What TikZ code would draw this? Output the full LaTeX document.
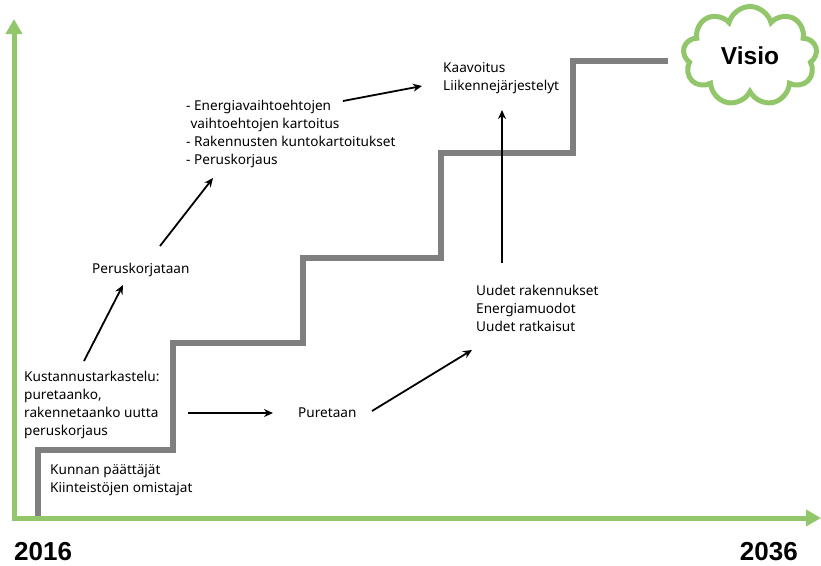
\documentclass[tikz,border=0pt]{standalone}
\usepackage{fontspec}
\setmainfont{Noto Sans}
\newfontfamily\yearfont{Liberation Sans}
\usetikzlibrary{arrows.meta,shapes.symbols}
\definecolor{axisgreen}{RGB}{146,198,106}
\definecolor{stairgray}{RGB}{127,127,127}
\tikzstyle{label} = [inner sep=0pt, anchor=west, align=left, font=\fontsize{13.6}{18}\selectfont]
\tikzstyle{year} = [inner sep=0pt, font=\yearfont\bfseries\fontsize{26}{26}\selectfont]
\tikzstyle{axis} = [axisgreen, line width=5pt, -{Triangle[width=16pt,length=15pt]}]
\tikzstyle{stairs} = [stairgray, line width=6.5pt, line join=miter]
\tikzstyle{arrow} = [line width=1.8pt, -{Stealth[length=9pt,width=8pt]}]

\begin{document}
\begin{tikzpicture}[x=1pt, y=-1pt]
    \useasboundingbox (0,0) rectangle (821,565);

    % staircase
    \draw [stairs] (38,518) -- (38,450) -- (173,450) -- (173,343) -- (303,343) -- (303,258)
        -- (441,258) -- (441,153) -- (573,153) -- (573,61) -- (668,61);

    % axes
    \draw [axis] (14,520) -- (14,19);
    \draw [axis] (12,518) -- (821,518);
    \node (start) [year, anchor=base west] at (14,560) {2016};
    \node (end) [year, anchor=base east] at (798,560) {2036};

    % vision
    \node (visio) [cloud, cloud puffs=9, aspect=1.5, draw=axisgreen, line width=5pt, fill=white,
        minimum width=134pt, minimum height=99pt, inner sep=0pt,
        font=\yearfont\bfseries\fontsize{24.5}{24.5}\selectfont] at (750,56) {Visio};

    % texts
    \node (kunnan) [label] at (50,480) {Kunnan päättäjät\\Kiinteistöjen omistajat};
    \node (kust) [label] at (24,405) {Kustannustarkastelu:\\puretaanko,\\rakennetaanko uutta\\peruskorjaus};
    \node (puretaan) [label] at (298,413) {Puretaan};
    \node (uudet) [label] at (476,308) {Uudet rakennukset\\Energiamuodot\\Uudet ratkaisut};
    \node (kaav) [label] at (443,78) {Kaavoitus\\Liikennejärjestelyt};
    \node (perus) [label] at (92,270) {Peruskorjataan};
    \node (kartoitus) [label] at (186,134) {- Energiavaihtoehtojen\\\phantom{-}vaihtoehtojen kartoitus\\- Rakennusten kuntokartoitukset\\- Peruskorjaus};

    % connectors
    \draw [arrow] ([shift={(164pt,-8pt)}]kust.west) -- ([xshift=-25pt]puretaan.west);
    \draw [arrow] ([shift={(74pt,2pt)}]puretaan.west) -- ([shift={(-4pt,-42pt)}]uudet.west);
    \draw [arrow] ([shift={(26pt,45pt)}]uudet.west) -- ([shift={(59pt,-32pt)}]kaav.west);
    \draw [arrow] ([shift={(60pt,44pt)}]kust.west) -- ([shift={(31pt,-15pt)}]perus.west);
    \draw [arrow] ([shift={(68pt,24pt)}]perus.west) -- ([shift={(27pt,-44pt)}]kartoitus.west);
    \draw [arrow] ([shift={(157pt,33pt)}]kartoitus.west) -- ([shift={(-21pt,-8pt)}]kaav.west);
\end{tikzpicture}
\end{document}
